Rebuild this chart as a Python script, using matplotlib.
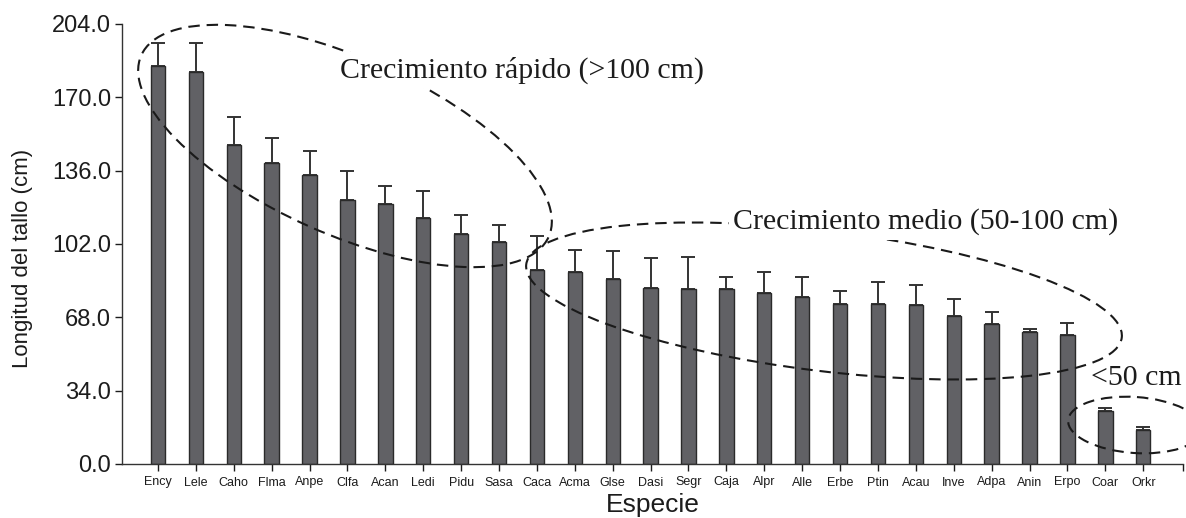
import matplotlib
matplotlib.use("Agg")
import matplotlib.pyplot as plt
from matplotlib.patches import Ellipse

especies = ["Ency", "Lele", "Caho", "Flma", "Anpe", "Clfa", "Acan", "Ledi", "Pidu",
            "Sasa", "Caca", "Acma", "Glse", "Dasi", "Segr", "Caja", "Alpr", "Alle",
            "Erbe", "Ptin", "Acau", "Inve", "Adpa", "Anin", "Erpo", "Coar", "Orkr"]
longitud = [184.7, 181.6, 147.9, 139.7, 134.0, 122.4, 120.4, 114.2, 106.6,
            102.9, 90.1, 88.9, 85.6, 81.8, 81.3, 81.3, 79.1, 77.4,
            74.2, 74.2, 73.6, 68.8, 64.9, 61.1, 59.8, 24.6, 15.8]
limite_sup = [195.0, 195.0, 161.0, 151.1, 145.0, 135.7, 128.7, 126.4, 115.4,
              110.9, 105.8, 99.4, 98.9, 95.5, 96.1, 86.7, 89.0, 86.7,
              80.2, 84.5, 82.8, 76.4, 70.3, 62.6, 65.2, 25.8, 17.0]
yticks = [0.0, 34.0, 68.0, 102.0, 136.0, 170.0, 204.0]

err = [s - m for s, m in zip(limite_sup, longitud)]
x = list(range(len(especies)))

plt.rcParams["font.family"] = ["Liberation Sans", "DejaVu Sans"]
INK = "#1c1c1c"
BAR = "#616165"

fig = plt.figure(figsize=(11.86, 5.18), dpi=100, facecolor="white")
ax = fig.add_axes([122 / 1186, 1 - 464 / 518, (1183 - 122) / 1186, (464 - 24) / 518])

ax.bar(x, longitud, width=0.38, color=BAR, edgecolor="#2a2a2a", linewidth=1.0, zorder=2)
ax.errorbar(x, longitud, yerr=[[0] * len(err), err], fmt="none", ecolor="#333333",
            elinewidth=1.4, capsize=5, capthick=1.4, zorder=1)

ax.set_xlim(-0.95, 27.05)
ax.set_ylim(0, 204)
ax.set_yticks(yticks)
ax.set_yticklabels([f"{v:.1f}" for v in yticks], fontsize=17, color=INK)
ax.set_xticks(x + [27.05])
ax.set_xticklabels(especies + [""], fontsize=9, color=INK)
ax.tick_params(axis="y", length=5, width=1, pad=3, colors=INK)
ax.tick_params(axis="x", length=5, width=1, pad=4, colors=INK)
for side in ["top", "right"]:
    ax.spines[side].set_visible(False)
for side in ["left", "bottom"]:
    ax.spines[side].set_color("#333333")
    ax.spines[side].set_linewidth(1.0)

ax.set_ylabel("Longitud del tallo (cm)", fontsize=16, color=INK)
ax.yaxis.set_label_coords(-0.084, 0.468)
ax.set_xlabel("Especie", fontsize=19, color=INK, labelpad=3)

# annotation layer in pixel coordinates
ov = fig.add_axes([0, 0, 1, 1], facecolor="none")
ov.set_xlim(0, 1186)
ov.set_ylim(518, 0)
ov.axis("off")

dash = (0, (5.5, 3.3))
for cx, cy, w, h, ang in [(345, 146, 446, 176, 24),
                          (824, 301, 600, 140, 7),
                          (1135, 425, 134, 56, 4)]:
    ov.add_patch(Ellipse((cx, cy), w, h, angle=ang, fill=False, edgecolor="#1a1a1a",
                         linewidth=1.5, linestyle=dash, zorder=3))

serif = ["Liberation Serif", "DejaVu Serif"]
ov.text(522, 70, "Crecimiento rápido (>100 cm)", family=serif, fontsize=21.5, color=INK,
        ha="center", va="center", zorder=4,
        bbox=dict(facecolor="white", edgecolor="none", pad=3))
ov.text(926, 222, "Crecimiento medio (50-100 cm)", family=serif, fontsize=21.5, color=INK,
        ha="center", va="center", zorder=4,
        bbox=dict(facecolor="white", edgecolor="none", pad=3))
ov.text(1136, 378, "<50 cm", family=serif, fontsize=21.5, color=INK,
        ha="center", va="center", zorder=4)

fig.savefig("out.png", dpi=100, facecolor="white")
